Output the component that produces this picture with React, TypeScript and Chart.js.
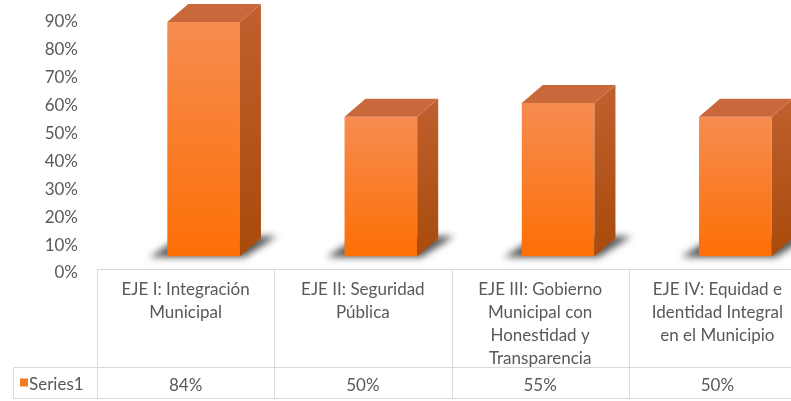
import React, { useEffect, useRef } from "react";
import { Chart, registerables } from "chart.js";

Chart.register(...registerables);

// ---------- data ----------
const categories: string[][] = [
  ["EJE I: Integración", "Municipal"],
  ["EJE II: Seguridad", "Pública"],
  ["EJE III: Gobierno", "Municipal con", "Honestidad y", "Transparencia"],
  ["EJE IV: Equidad e", "Identidad Integral", "en el Municipio"],
];
const seriesName = "Series1";
const values: number[] = [84, 50, 55, 50];
const valueLabels: string[] = ["84%", "50%", "55%", "50%"];
const yMin = 0;
const yMax = 90;
const yStep = 10;
const floorLift = 6; // 3D floor: front faces stand this many units above the back-wall zero

// ---------- style ----------
const FONT = "Lato, 'Liberation Sans', sans-serif";
const TEXT = "#595959";
const GRID = "#D9D9D9";
const SHIFT = 18; // front face offset from category centre
const DX = 21; // depth offset x
const DY = 18; // depth offset y

type BarGeom = { L: number; R: number; T: number; B: number };

function barGeoms(chart: Chart): BarGeom[] {
  const meta = chart.getDatasetMeta(0);
  return meta.data.map((el: any) => {
    const p = el.getProps(["x", "y", "base", "width"], true);
    return {
      L: p.x - p.width / 2 + SHIFT,
      R: p.x + p.width / 2 + SHIFT,
      T: p.y,
      B: p.base,
    };
  });
}

const noPad = (s: any) => {
  s.paddingTop = 0;
  s.paddingBottom = 0;
  s.paddingLeft = 0;
  s.paddingRight = 0;
};

const bar3dPlugin = {
  id: "bar3d",
  beforeDatasetsDraw(chart: Chart) {
    const ctx = chart.ctx;
    const geoms = barGeoms(chart);
    // shadows
    ctx.save();
    ctx.filter = "blur(3.5px)";
    ctx.fillStyle = "rgba(45,45,45,0.8)";
    geoms.forEach(({ L, R, B }) => {
      ctx.beginPath();
      ctx.moveTo(L - 18, B + 1);
      ctx.lineTo(R + 4, B + 1);
      ctx.lineTo(R + DX + 16, B - DY - 2);
      ctx.lineTo(L + DX - 6, B - DY - 2);
      ctx.closePath();
      ctx.fill();
    });
    ctx.restore();
    ctx.save();
    ctx.translate(SHIFT, 0);
  },
  afterDatasetsDraw(chart: Chart) {
    const ctx = chart.ctx;
    ctx.restore();
    const geoms = barGeoms(chart);
    geoms.forEach(({ L, R, T, B }) => {
      // side face
      const gs = ctx.createLinearGradient(0, T - DY, 0, B);
      gs.addColorStop(0, "#C0602F");
      gs.addColorStop(1, "#A84B0B");
      ctx.fillStyle = gs;
      ctx.beginPath();
      ctx.moveTo(R, T);
      ctx.lineTo(R + DX, T - DY);
      ctx.lineTo(R + DX, B - DY);
      ctx.lineTo(R, B);
      ctx.closePath();
      ctx.fill();
      // top face
      ctx.fillStyle = "#C9683A";
      ctx.beginPath();
      ctx.moveTo(L, T);
      ctx.lineTo(R, T);
      ctx.lineTo(R + DX, T - DY);
      ctx.lineTo(L + DX, T - DY);
      ctx.closePath();
      ctx.fill();
    });
  },
  afterDraw(chart: Chart) {
    const ctx = chart.ctx;
    const xs = chart.scales.x;
    const area = chart.chartArea;
    const n = categories.length;
    const catW = (xs.right - xs.left) / n;
    const top = Math.round(area.bottom) - 3.5;
    const sep = top + 98;
    const bottom = sep + 31;
    const legendLeft = 13.5;

    ctx.save();
    ctx.strokeStyle = GRID;
    ctx.lineWidth = 1;
    ctx.beginPath();
    ctx.moveTo(xs.left, top);
    ctx.lineTo(xs.right, top);
    ctx.moveTo(legendLeft, sep);
    ctx.lineTo(xs.right, sep);
    ctx.moveTo(legendLeft, bottom);
    ctx.lineTo(xs.right, bottom);
    ctx.moveTo(legendLeft, sep);
    ctx.lineTo(legendLeft, bottom);
    for (let i = 0; i <= n; i++) {
      const x = Math.round(xs.left + i * catW) + 0.5;
      ctx.moveTo(x, top);
      ctx.lineTo(x, bottom);
    }
    ctx.stroke();

    ctx.fillStyle = TEXT;
    ctx.font = `17px ${FONT}`;
    ctx.textAlign = "center";
    ctx.textBaseline = "middle";
    categories.forEach((lines, i) => {
      const cx = xs.getPixelForValue(i);
      lines.forEach((line, j) => {
        ctx.fillText(line, cx, top + 20 + j * 23);
      });
      ctx.fillText(valueLabels[i], cx, sep + 18);
    });

    // legend key
    ctx.fillStyle = "#F47A20";
    ctx.fillRect(20, sep + 11, 8, 8);
    ctx.fillStyle = TEXT;
    ctx.textAlign = "left";
    ctx.fillText(seriesName, 29, sep + 17);
    ctx.restore();
  },
};

export default function App() {
  const ref = useRef<HTMLCanvasElement | null>(null);

  useEffect(() => {
    if (!ref.current) return;
    const chart = new Chart(ref.current, {
      type: "bar",
      data: {
        labels: categories.map((c) => c.join(" ")),
        datasets: [
          {
            label: seriesName,
            data: values,
            yAxisID: "yb",
            barPercentage: 0.41,
            categoryPercentage: 1,
            borderWidth: 0,
            clip: false as any,
            backgroundColor: (c: any) => {
              const ch = c.chart;
              const ys = ch.scales?.yb;
              if (!ys || !ch.chartArea || typeof c.raw !== "number") return "#F97A20";
              const t = ys.getPixelForValue(c.raw);
              const b = ys.getPixelForValue(0);
              const g = ch.ctx.createLinearGradient(0, t, 0, b);
              g.addColorStop(0, "#F68C50");
              g.addColorStop(1, "#FD6F06");
              return g;
            },
          },
        ],
      },
      options: {
        responsive: false,
        devicePixelRatio: 1,
        animation: false,
        layout: { padding: { top: 22, bottom: 128, left: 0, right: 0 } },
        plugins: { legend: { display: false }, tooltip: { enabled: false } },
        scales: {
          x: { display: false, afterFit: noPad },
          y: {
            position: "left",
            min: yMin,
            max: yMax,
            grid: { display: false, drawTicks: false },
            border: { display: false },
            ticks: {
              stepSize: yStep,
              padding: 19,
              color: TEXT,
              font: { family: FONT, size: 17 },
              callback: (v: any) => `${v}%`,
            },
            afterFit: (s: any) => {
              s.width = 97;
              noPad(s);
            },
          },
          yb: {
            type: "linear",
            display: false,
            min: yMin - floorLift,
            max: yMax - floorLift,
            ticks: { display: false },
            afterFit: noPad,
          },
        },
      },
      plugins: [bar3dPlugin],
    });
    return () => chart.destroy();
  }, []);

  return (
    <div
      style={{
        position: "fixed",
        left: 0,
        top: 0,
        width: 791,
        height: 401,
        overflow: "hidden",
        background: "#fff",
      }}
    >
      <canvas ref={ref} width={806} height={401} style={{ display: "block" }} />
    </div>
  );
}
